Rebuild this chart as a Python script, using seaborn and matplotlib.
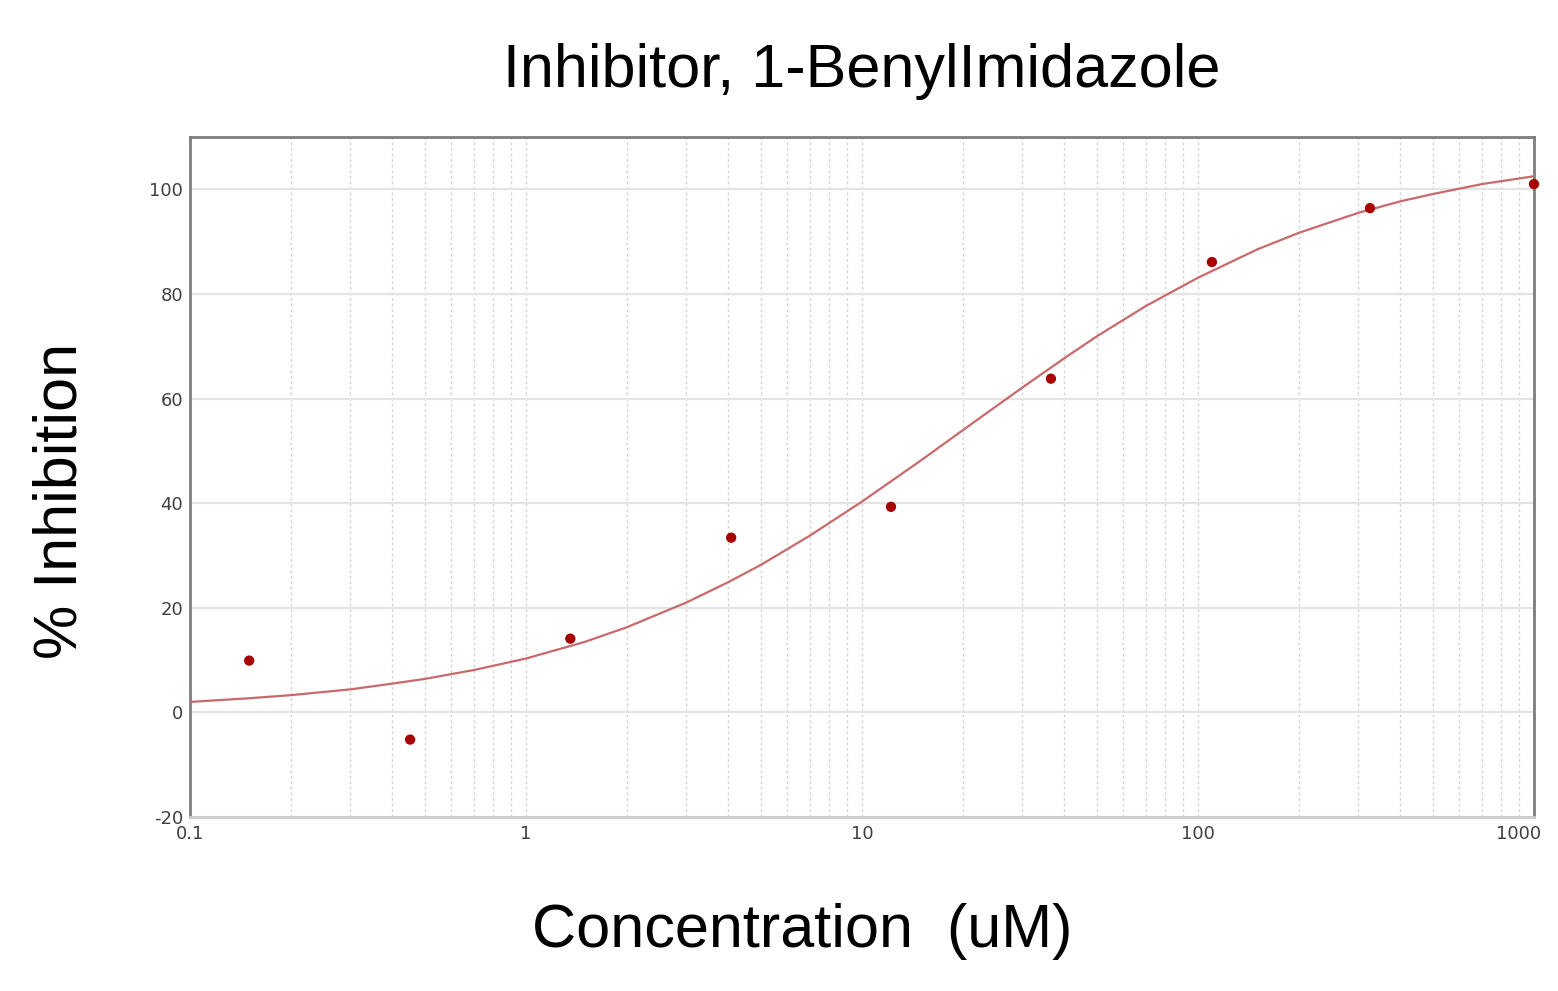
import numpy as np
import pandas as pd
import seaborn as sns
import matplotlib.pyplot as plt
import matplotlib.transforms as mtransforms
from matplotlib.ticker import LogLocator, FixedLocator, NullFormatter

# measured points
conc = [0.150, 0.452, 1.355, 4.08, 12.2, 36.5, 110, 325, 1000]
inhibition = [9.9, -5.2, 14.1, 33.4, 39.3, 63.8, 86.1, 96.4, 101.0]

# fitted curve at gridline positions
fit_conc = [0.1, 0.15, 0.2, 0.3, 0.4, 0.5, 0.7, 1, 1.5, 2, 3, 4, 5, 7, 10, 15,
            20, 30, 40, 50, 70, 100, 150, 200, 300, 400, 500, 700, 1000]
fit_inhibition = [2.0, 2.7, 3.3, 4.4, 5.5, 6.4, 8.1, 10.3, 13.5, 16.3, 21.0, 24.9,
                  28.2, 33.8, 40.3, 48.2, 54.0, 62.1, 67.7, 71.9, 77.7, 83.1, 88.5,
                  91.7, 95.5, 97.7, 99.1, 101.0, 102.5]

x_ticks = [0.1, 1, 10, 100, 1000]
x_tick_labels = ["0.1", "1", "10", "100", "1000"]
y_ticks = [-20, 0, 20, 40, 60, 80, 100]

points = pd.DataFrame({"conc": conc, "inhibition": inhibition})
curve = pd.DataFrame({"conc": fit_conc, "inhibition": fit_inhibition})

sns.set_style("white")
plt.rcParams['font.family'] = ['Liberation Sans', 'DejaVu Sans']
plt.rcParams['axes.unicode_minus'] = False

fig = plt.figure(figsize=(15.58, 9.91), dpi=100)
ax = fig.add_axes([190 / 1558, 1 - 817 / 991, 1344 / 1558, 680 / 991])

sns.lineplot(data=curve, x="conc", y="inhibition", ax=ax, color="#c9696b", linewidth=1.6, zorder=3)
sns.scatterplot(data=points, x="conc", y="inhibition", ax=ax, color="#a80000", s=55,
                edgecolor="none", zorder=4, clip_on=False)

ax.set_xscale("log")
ax.set_xlim(0.1, 1000)
ax.set_ylim(-20, 110)

ax.xaxis.set_major_locator(FixedLocator(x_ticks))
ax.set_xticklabels(x_tick_labels)
ax.xaxis.set_minor_locator(LogLocator(base=10, subs=np.arange(2, 10)))
ax.xaxis.set_minor_formatter(NullFormatter())
ax.set_yticks(y_ticks)

ax.grid(axis="x", which="both", color="#d4d4d4", linestyle=(0, (2, 2)), linewidth=1.0)
ax.grid(axis="y", which="major", color="#e4e4e4", linestyle="-", linewidth=1.6)
ax.set_axisbelow(True)

ax.tick_params(axis="both", which="both", length=0, labelsize=13, labelcolor="#404040")
ax.tick_params(axis="y", pad=5)
ax.tick_params(axis="x", pad=6)
for lab in ax.get_xticklabels() + ax.get_yticklabels():
    lab.set_family("DejaVu Sans")

# nudge the last x label inside the figure like the original
last = ax.get_xticklabels()[-1]
last.set_transform(last.get_transform() + mtransforms.ScaledTranslation(-15 / 100, 0, fig.dpi_scale_trans))

for side in ["left", "top", "right"]:
    ax.spines[side].set_color("#7d7d7d")
    ax.spines[side].set_linewidth(2)
ax.spines["bottom"].set_color("#cccccc")
ax.spines["bottom"].set_linewidth(2)

ax.set_xlabel("")
ax.set_ylabel("")

fig.text(862 / 1558, 1 - 87 / 991, "Inhibitor, 1-BenylImidazole", ha="center", va="baseline",
         fontsize=44, color="black")
fig.text(802 / 1558, 1 - 947 / 991, "Concentration  (uM)", ha="center", va="baseline",
         fontsize=44, color="black")
fig.text(61 / 1558, 1 - 501 / 991, "% Inhibition", ha="center", va="center", rotation=90,
         fontsize=44, color="black")

fig.savefig("out.png", dpi=100)
